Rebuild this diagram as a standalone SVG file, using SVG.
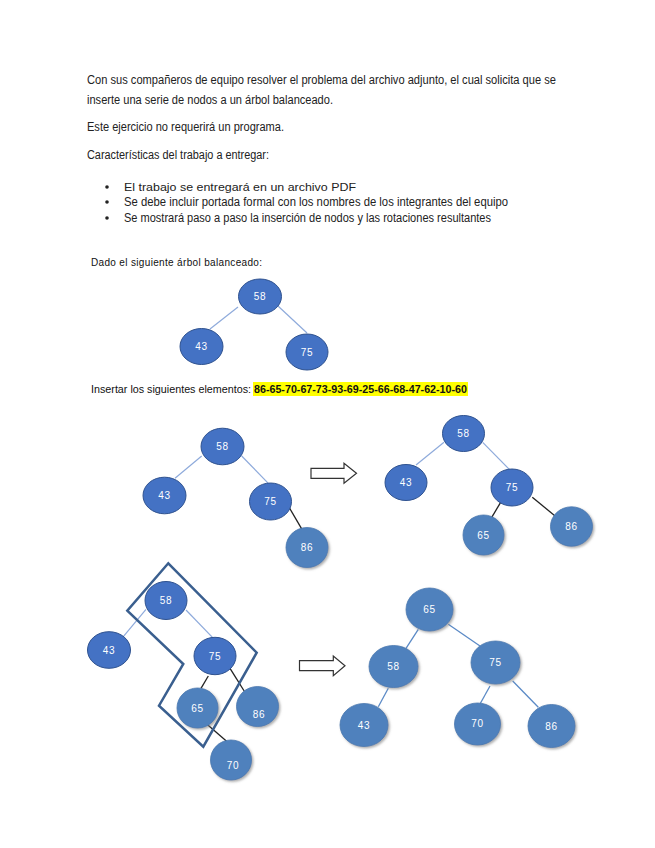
<svg xmlns="http://www.w3.org/2000/svg" width="655" height="848" viewBox="0 0 655 848">
<style>
.body{font-family:"Liberation Sans","DejaVu Sans",sans-serif;font-size:12px;fill:#222}
.small{font-family:"Liberation Sans","DejaVu Sans",sans-serif;font-size:10px;fill:#111}
.dk{fill:#4472c4;stroke:#2f528f;stroke-width:1}
.lt{fill:#4f81bd;stroke:#4a78b0;stroke-width:0.8;filter:url(#sh)}
.lbl{font-family:"Liberation Sans","DejaVu Sans",sans-serif;font-size:10px;fill:#fff;text-anchor:middle;letter-spacing:0.8px}
.ln{stroke:#8eaadb;stroke-width:1.2;fill:none}
.ln2{stroke:#5b8ac6;stroke-width:1.3;fill:none}
.bk{stroke:#222;stroke-width:1.3;fill:none}
.arr{fill:#fff;stroke:#333;stroke-width:1.2}
</style>
<defs>
<filter id="sh" x="-30%" y="-30%" width="160%" height="160%">
<feDropShadow dx="1.5" dy="1.5" stdDeviation="0.8" flood-color="#777" flood-opacity="0.6"/>
</filter>
</defs>
<rect width="655" height="848" fill="#fff"/>
<g id="text">
<text class="body" x="87" y="84" textLength="469" lengthAdjust="spacingAndGlyphs">Con sus compañeros de equipo resolver el problema del archivo adjunto, el cual solicita que se</text>
<text class="body" x="87" y="104" textLength="246" lengthAdjust="spacingAndGlyphs">inserte una serie de nodos a un árbol balanceado.</text>
<text class="body" x="87" y="131" textLength="197" lengthAdjust="spacingAndGlyphs">Este ejercicio no requerirá un programa.</text>
<text class="body" x="87" y="159" textLength="182" lengthAdjust="spacingAndGlyphs">Características del trabajo a entregar:</text>
<circle cx="107" cy="187" r="1.8" fill="#222"/>
<circle cx="107" cy="202" r="1.8" fill="#222"/>
<circle cx="107" cy="218" r="1.8" fill="#222"/>
<text class="body" x="124" y="191" font-size="11" style="font-size:11px" textLength="232" lengthAdjust="spacingAndGlyphs">El trabajo se entregará en un archivo PDF</text>
<text class="body" x="124" y="206" textLength="384" lengthAdjust="spacingAndGlyphs">Se debe incluir portada formal con los nombres de los integrantes del equipo</text>
<text class="body" x="124" y="222" textLength="367" lengthAdjust="spacingAndGlyphs">Se mostrará paso a paso la inserción de nodos y las rotaciones resultantes</text>
<text class="small" x="91" y="266" textLength="171" lengthAdjust="spacing">Dado el siguiente árbol balanceado:</text>
<rect x="253" y="382" width="215" height="14" fill="#ffff00"/>
<text class="small" x="91" y="393" textLength="160" lengthAdjust="spacingAndGlyphs">Insertar los siguientes elementos:</text>
<text class="small" x="254" y="393" textLength="213" lengthAdjust="spacingAndGlyphs" font-weight="bold">86-65-70-67-73-93-69-25-66-68-47-62-10-60</text>
</g>
<g id="connectors">
<line class="ln" x1="238" y1="307" x2="210" y2="329"/>
<line class="ln" x1="278" y1="306" x2="307" y2="333"/>
<line class="ln" x1="201.7" y1="456" x2="175" y2="478.3"/>
<line class="ln" x1="241.7" y1="456" x2="268.3" y2="483.3"/>
<line class="bk" x1="289.3" y1="507.7" x2="303.3" y2="531.7"/>
<line class="ln" x1="444" y1="442.3" x2="416" y2="465"/>
<line class="ln" x1="482.7" y1="442.3" x2="510" y2="470"/>
<line class="bk" x1="501.7" y1="500.7" x2="491.7" y2="517.3"/>
<line class="bk" x1="532.3" y1="497.3" x2="556" y2="516.7"/>
<line class="ln" x1="146" y1="609.3" x2="123.3" y2="636.7"/>
<line class="ln" x1="186" y1="610" x2="212.7" y2="637.7"/>
<line class="bk" x1="208.3" y1="676" x2="201" y2="688.3"/>
<line class="bk" x1="230" y1="668.3" x2="246.7" y2="695"/>
<line class="bk" x1="206.7" y1="724" x2="228.3" y2="742.7"/>
<line class="ln2" x1="418.3" y1="629.3" x2="406" y2="648.3"/>
<line class="ln2" x1="448.3" y1="624.3" x2="480" y2="646"/>
<line class="ln2" x1="388.3" y1="688.3" x2="378.3" y2="706.7"/>
<line class="ln2" x1="490" y1="686" x2="480" y2="704"/>
<line class="ln2" x1="512.7" y1="681" x2="538.3" y2="707.3"/>
<polygon id="arrow1" class="arr" points="311,468.3 344,468.3 344,463.3 356.5,473.3 344,483.3 344,478.3 311,478.3"/>
<polygon id="arrow2" class="arr" points="299.5,660.7 333.3,660.7 333.3,656 345,665.8 333.3,675.8 333.3,670.7 299.5,670.7"/>
<polygon id="rotation-box" points="168.3,563.3 256.7,652.7 203.3,746.7 159,705.7 183.3,664 127.3,610.7" fill="none" stroke="#3a5f8f" stroke-width="2.5" stroke-linejoin="miter"/>
</g>
<g id="t1-58"><ellipse class="dk" cx="260" cy="296.5" rx="21.5" ry="17.5"/><text class="lbl" x="260" y="300">58</text></g>
<g id="t1-43"><ellipse class="dk" cx="201.5" cy="346.5" rx="21.5" ry="18"/><text class="lbl" x="201.5" y="350">43</text></g>
<g id="t1-75"><ellipse class="dk" cx="307" cy="352" rx="21" ry="18"/><text class="lbl" x="307" y="356">75</text></g>

<g id="t2-58"><ellipse class="dk" cx="222.5" cy="446.5" rx="21.5" ry="18.3"/><text class="lbl" x="222.5" y="450">58</text></g>
<g id="t2-43"><ellipse class="dk" cx="164.5" cy="495.5" rx="21.5" ry="18.3"/><text class="lbl" x="164.5" y="499">43</text></g>
<g id="t2-75"><ellipse class="dk" cx="270.5" cy="501.5" rx="21" ry="18.5"/><text class="lbl" x="270.5" y="505">75</text></g>
<g id="t2-86"><ellipse class="lt" cx="307" cy="547.5" rx="21" ry="20"/><text class="lbl" x="307" y="551">86</text></g>

<g id="t3-58"><ellipse class="dk" cx="463.5" cy="433.5" rx="21" ry="18"/><text class="lbl" x="463.5" y="437">58</text></g>
<g id="t3-43"><ellipse class="dk" cx="406" cy="482.5" rx="21" ry="18"/><text class="lbl" x="406" y="486">43</text></g>
<g id="t3-75"><ellipse class="dk" cx="512" cy="487.5" rx="21" ry="18.5"/><text class="lbl" x="512" y="491">75</text></g>
<g id="t3-65"><ellipse class="lt" cx="483.5" cy="535" rx="20.5" ry="20"/><text class="lbl" x="483.5" y="538.5">65</text></g>
<g id="t3-86"><ellipse class="lt" cx="571.5" cy="526.5" rx="21" ry="19.7"/><text class="lbl" x="571.5" y="530">86</text></g>

<g id="t4-58"><ellipse class="dk" cx="166" cy="600.5" rx="21" ry="19"/><text class="lbl" x="166" y="604">58</text></g>
<g id="t4-43"><ellipse class="dk" cx="109" cy="650" rx="21.5" ry="18.3"/><text class="lbl" x="109" y="653.5">43</text></g>
<g id="t4-75"><ellipse class="dk" cx="215" cy="656" rx="21" ry="18.7"/><text class="lbl" x="215" y="659.5">75</text></g>
<g id="t4-65"><ellipse class="lt" cx="197.5" cy="708" rx="20.5" ry="20"/><text class="lbl" x="197.5" y="711.5">65</text></g>
<g id="t4-86"><ellipse class="lt" cx="257.5" cy="706.5" rx="21" ry="20"/><text class="lbl" x="259" y="718">86</text></g>
<g id="t4-70"><ellipse class="lt" cx="231" cy="760" rx="20.5" ry="20"/><text class="lbl" x="233" y="769">70</text></g>

<g id="t5-65"><ellipse class="lt" cx="429.5" cy="609.5" rx="23.5" ry="21.5"/><text class="lbl" x="429.5" y="613">65</text></g>
<g id="t5-58"><ellipse class="lt" cx="393.5" cy="666.5" rx="24.5" ry="21"/><text class="lbl" x="393.5" y="670">58</text></g>
<g id="t5-75"><ellipse class="lt" cx="495.5" cy="662.5" rx="24.5" ry="21.5"/><text class="lbl" x="495.5" y="666">75</text></g>
<g id="t5-43"><ellipse class="lt" cx="364" cy="725" rx="24" ry="21.5"/><text class="lbl" x="364" y="728.5">43</text></g>
<g id="t5-70"><ellipse class="lt" cx="477.5" cy="724" rx="23" ry="21"/><text class="lbl" x="477.5" y="727">70</text></g>
<g id="t5-86"><ellipse class="lt" cx="551.5" cy="726" rx="23.5" ry="21.5"/><text class="lbl" x="551.5" y="730">86</text></g>
</svg>
